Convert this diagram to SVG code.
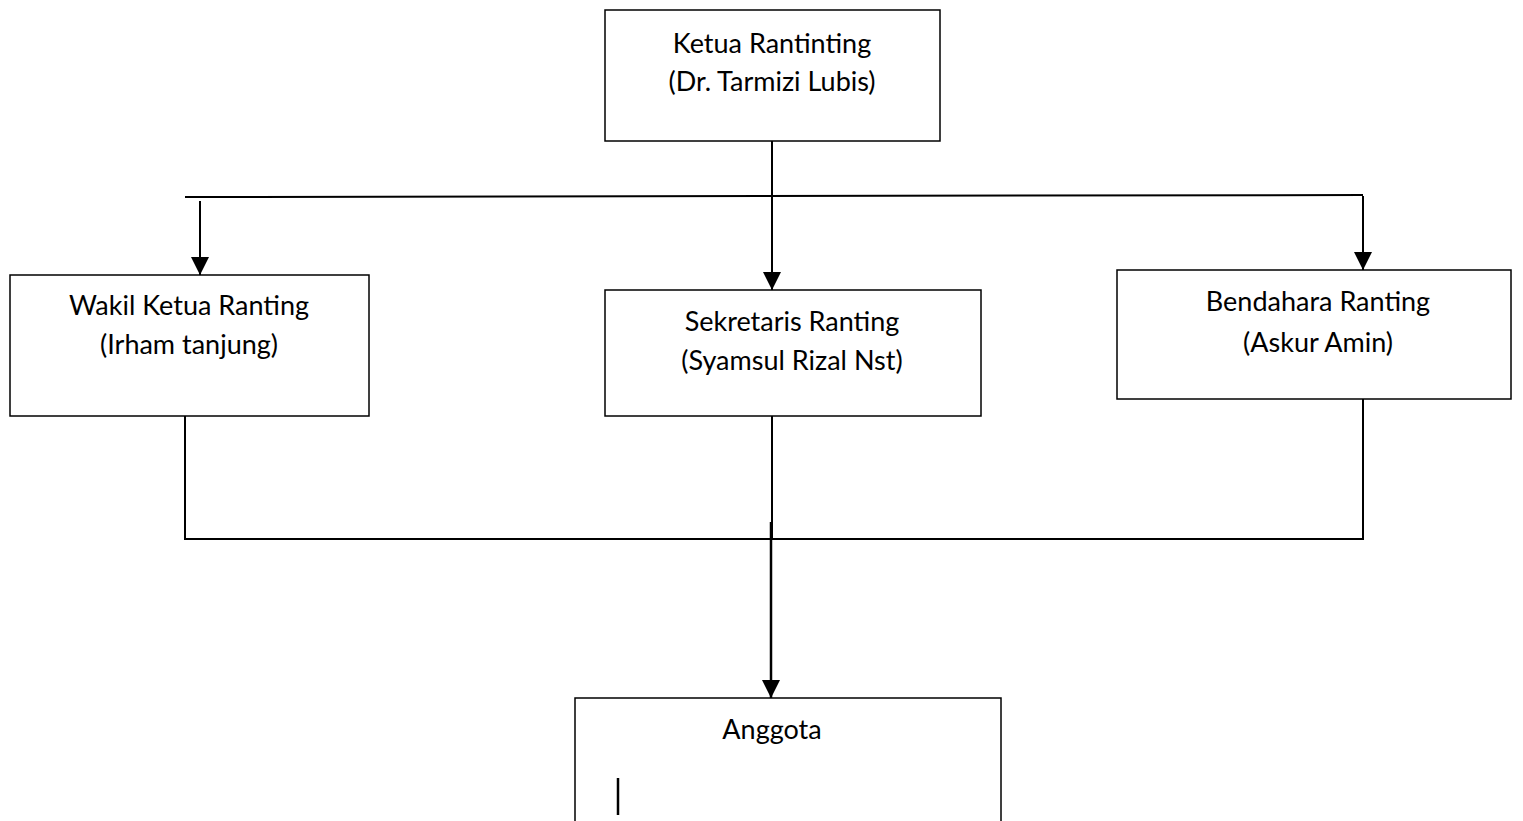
<svg xmlns="http://www.w3.org/2000/svg" width="1523" height="821" viewBox="0 0 1523 821">
<style>
.box{fill:#fff;stroke:#000;stroke-width:1.5}
.t{font-family:Lato,"Liberation Sans",sans-serif;font-size:27px;fill:#000;text-anchor:middle}
.ln{stroke:#000;stroke-width:2;fill:none}
</style>
<defs>
<marker id="a" viewBox="0 0 18 18" refX="18" refY="9" markerWidth="18" markerHeight="18" orient="auto" markerUnits="userSpaceOnUse">
<path d="M0,0 L18,9 L0,18 Z" fill="#000"/>
</marker>
</defs>
<rect width="1523" height="821" fill="#fff"/>
<g id="connectors">
<line class="ln" x1="772" y1="141" x2="772" y2="290" marker-end="url(#a)"/>
<line class="ln" x1="185" y1="197" x2="1363" y2="195"/>
<line class="ln" x1="200" y1="201" x2="200" y2="275" stroke-width="2.5" marker-end="url(#a)"/>
<line class="ln" x1="1363" y1="196" x2="1363" y2="270" stroke-width="2.5" marker-end="url(#a)"/>
<line class="ln" x1="185" y1="416" x2="185" y2="539"/>
<line class="ln" x1="772" y1="416" x2="772" y2="539"/>
<line class="ln" x1="1363" y1="399" x2="1363" y2="539"/>
<line class="ln" x1="184" y1="539" x2="1364" y2="539"/>
<line x1="771" y1="522" x2="771" y2="698" stroke="#000" stroke-width="2.5" marker-end="url(#a)"/>
</g>
<g id="ketua">
<rect class="box" x="605" y="10" width="335" height="131"/>
<text class="t" x="772" y="53">Ketua Rantinting</text>
<text class="t" x="772" y="91">(Dr. Tarmizi Lubis)</text>
</g>
<g id="wakil">
<rect class="box" x="10" y="275" width="359" height="141"/>
<text class="t" x="189" y="315">Wakil Ketua Ranting</text>
<text class="t" x="189" y="354">(Irham tanjung)</text>
</g>
<g id="sekretaris">
<rect class="box" x="605" y="290" width="376" height="126"/>
<text class="t" x="792" y="331">Sekretaris Ranting</text>
<text class="t" x="792" y="370">(Syamsul Rizal Nst)</text>
</g>
<g id="bendahara">
<rect class="box" x="1117" y="270" width="394" height="129"/>
<text class="t" x="1318" y="311">Bendahara Ranting</text>
<text class="t" x="1318" y="352">(Askur Amin)</text>
</g>
<g id="anggota">
<rect class="box" x="575" y="698" width="426" height="140"/>
<text class="t" x="772" y="739">Anggota</text>
<line x1="618" y1="778" x2="618" y2="815" stroke="#000" stroke-width="2.5"/>
</g>
</svg>
